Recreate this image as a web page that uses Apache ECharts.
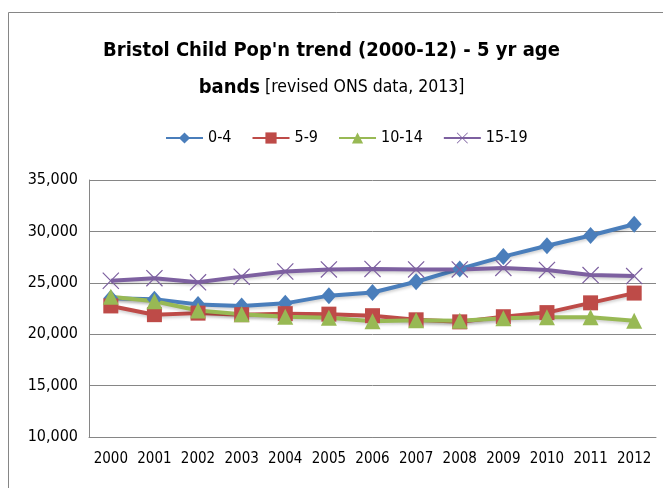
<!DOCTYPE html>
<html>
<head>
<meta charset="utf-8">
<script src="https://cdn.jsdelivr.net/npm/echarts@6/dist/echarts.min.js"></script>
<style>
  html, body { margin: 0; padding: 0; background: #fff; }
  #main { width: 663px; height: 488px; }
</style>
</head>
<body>
<div id="main"></div>
<script>
var years = ['2000', '2001', '2002', '2003', '2004', '2005', '2006', '2007', '2008', '2009', '2010', '2011', '2012'];
var age0to4 = [23500, 23400, 22900, 22750, 23000, 23750, 24050, 25100, 26350, 27550, 28600, 29600, 30700];
var age5to9 = [22750, 21900, 22050, 21900, 22000, 21950, 21800, 21400, 21200, 21700, 22100, 23050, 24000];
var age10to14 = [23650, 23200, 22300, 21950, 21700, 21600, 21250, 21350, 21300, 21550, 21650, 21650, 21300];
var age15to19 = [25200, 25450, 25050, 25600, 26100, 26300, 26350, 26300, 26300, 26450, 26250, 25750, 25650];

var font = '"Liberation Sans Narrow", "DejaVu Sans Condensed", "Liberation Sans", sans-serif';
var crossPath = 'path://M0,1L1,0L10,9L19,0L20,1L11,10L20,19L19,20L10,11L1,20L0,19L9,10Z';

var chart = echarts.init(document.getElementById('main'), null, { renderer: 'canvas' });

function lineSeries(name, data, color, symbol, size) {
  return {
    name: name,
    type: 'line',
    data: data,
    symbol: symbol,
    symbolSize: size,
    showAllSymbol: true,
    color: color,
    lineStyle: {
      width: 4,
      color: color,
      shadowColor: 'rgba(0,0,0,0.18)',
      shadowBlur: 3,
      shadowOffsetY: 2
    },
    itemStyle: { color: color },
    emphasis: { disabled: true },
    animation: false
  };
}

var option = {
  backgroundColor: '#fff',
  graphic: [{
    type: 'rect',
    shape: { x: 8.5, y: 12.5, width: 700, height: 500 },
    style: { fill: 'none', stroke: '#868686', lineWidth: 1 },
    silent: true
  }],
  title: {
    left: 'center',
    top: 27,
    text: '{b|Bristol Child Pop\'n trend (2000-12) - 5 yr age}\n{b|bands} {s|[revised ONS data, 2013]}',
    textStyle: {
      rich: {
        b: { fontFamily: font, fontSize: 20, fontWeight: 'bold', color: '#000', lineHeight: 37 },
        s: { fontFamily: font, fontSize: 17.5, fontWeight: 'normal', color: '#000', lineHeight: 37 }
      }
    }
  },
  legend: {
    top: 125,
    left: 160,
    itemWidth: 37,
    itemHeight: 14,
    itemGap: 20,
    textStyle: { fontFamily: font, fontSize: 16, color: '#000' },
    data: ['0-4', '5-9', '10-14', '15-19']
  },
  grid: {
    left: 89,
    right: 7,
    top: 180,
    bottom: 51,
    containLabel: false
  },
  xAxis: {
    type: 'category',
    data: years,
    boundaryGap: true,
    axisLine: { lineStyle: { color: '#868686' } },
    axisTick: { show: false },
    axisLabel: { interval: 0, fontFamily: font, fontSize: 15, color: '#000', margin: 15 }
  },
  yAxis: {
    type: 'value',
    min: 10000,
    max: 35000,
    interval: 5000,
    axisLine: { show: true, lineStyle: { color: '#868686' } },
    axisTick: { show: false },
    splitLine: { lineStyle: { color: '#868686' } },
    axisLabel: {
      fontFamily: font,
      fontSize: 16,
      color: '#000',
      margin: 11,
      formatter: function (v) { return v.toLocaleString('en-US'); }
    }
  },
  series: [
    lineSeries('0-4', age0to4, '#4a7ebb', 'diamond', [15, 17]),
    lineSeries('5-9', age5to9, '#be4b48', 'rect', 15),
    lineSeries('10-14', age10to14, '#98b954', 'triangle', 16),
    lineSeries('15-19', age15to19, '#7d60a0', crossPath, 17)
  ]
};

chart.setOption(option);
</script>
</body>
</html>
